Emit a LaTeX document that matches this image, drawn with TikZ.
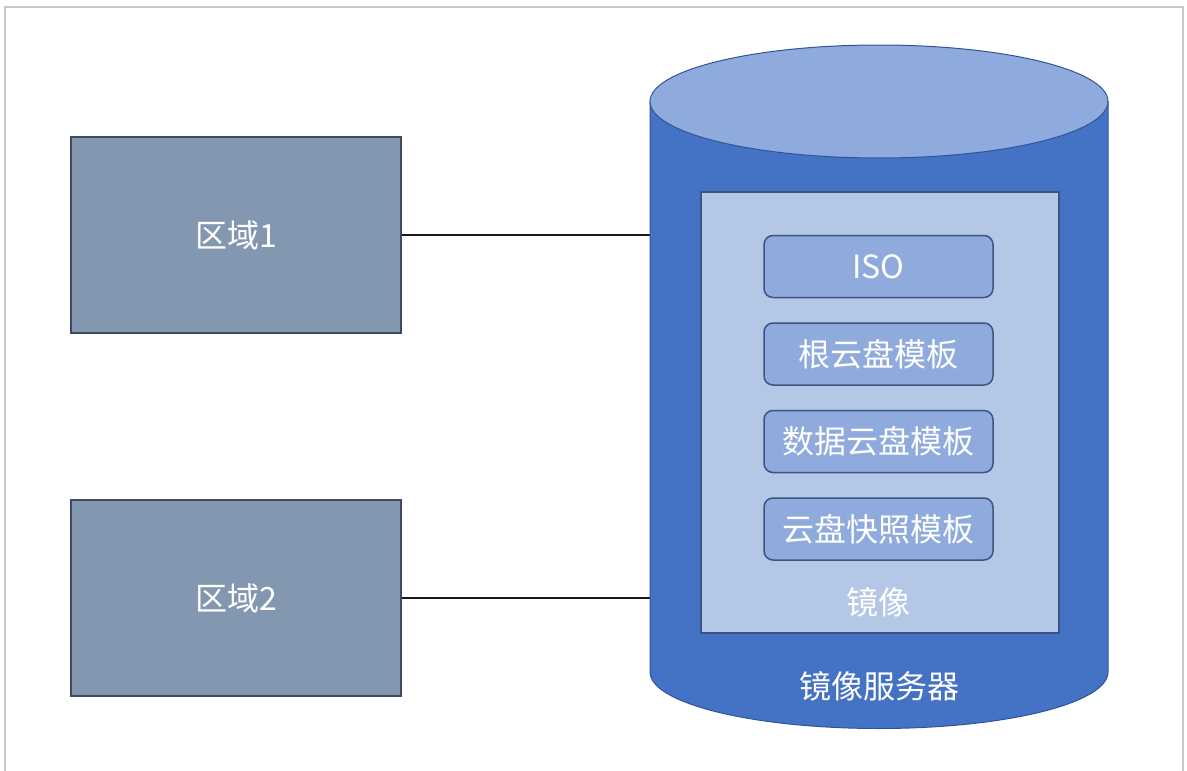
\documentclass[tikz,border=0pt]{standalone}
\usepackage{fontspec}
\setmainfont{Noto Sans CJK SC}
\usetikzlibrary{positioning}
\definecolor{regionfill}{HTML}{8497B0}
\definecolor{regionline}{HTML}{3E4B5E}
\definecolor{srvbody}{HTML}{4472C4}
\definecolor{srvtop}{HTML}{8FAADC}
\definecolor{srvline}{HTML}{2F5597}
\definecolor{imgfill}{HTML}{B4C7E7}
\definecolor{imgline}{HTML}{3B5583}
\definecolor{frameline}{HTML}{C8C8C8}

\begin{document}
\begin{tikzpicture}[x=1pt, y=-1pt,
  region/.style={draw=regionline, line width=1.5pt, fill=regionfill, minimum width=330pt, minimum height=196pt, text=white, font=\fontsize{32}{38}\selectfont},
  tmpl/.style={draw=imgline, line width=1.5pt, fill=srvtop, rounded corners=9pt, minimum width=229pt, minimum height=62pt, text=white, font=\fontsize{32}{38}\selectfont},
  lbl/.style={text=white, font=\fontsize{32}{38}\selectfont},
  link/.style={line width=2.5pt, black!90}]
  \useasboundingbox (0,0) rectangle (1187,771);
  \draw[frameline, line width=2pt] (5,771) -- (5,7) -- (1183,7) -- (1183,771);

  \pgfmathsetmacro{\cx}{879}
  \pgfmathsetmacro{\rx}{229}
  \pgfmathsetmacro{\ry}{56.5}
  \pgfmathsetmacro{\yTop}{101.5}
  \pgfmathsetmacro{\yBot}{672}

  \node[region] (reg1) at (236,235) {区域1};
  \node[region] (reg2) at (236,598) {区域2};
  \coordinate (srvW) at (\cx-\rx, \yTop);
  \draw[link] (reg1.east) -- (reg1.east -| srvW);
  \draw[link] (reg2.east) -- (reg2.east -| srvW);

  \filldraw[fill=srvbody, draw=srvline, line width=1pt] (\cx-\rx,\yTop) -- (\cx-\rx,\yBot)
    arc[start angle=180, end angle=0, x radius=\rx, y radius=\ry] -- (\cx+\rx,\yTop) -- cycle;
  \filldraw[fill=srvtop, draw=srvline, line width=1pt] (\cx,\yTop) ellipse [x radius=\rx, y radius=\ry];
  \node[lbl] (srvlabel) at (\cx,686) {镜像服务器};

  \node[draw=imgline, line width=1.5pt, fill=imgfill, minimum width=358pt, minimum height=441pt] (images) at (880,412.5) {};
  \node[tmpl] (iso) at (878.5,266.5) {ISO};
  \node[tmpl, below=24pt of iso] (rootdisk) {根云盘模板};
  \node[tmpl, below=24pt of rootdisk] (datadisk) {数据云盘模板};
  \node[tmpl, below=24pt of datadisk] (snapdisk) {云盘快照模板};
  \node[lbl] (imglabel) at (878,602) {镜像};
\end{tikzpicture}
\end{document}
